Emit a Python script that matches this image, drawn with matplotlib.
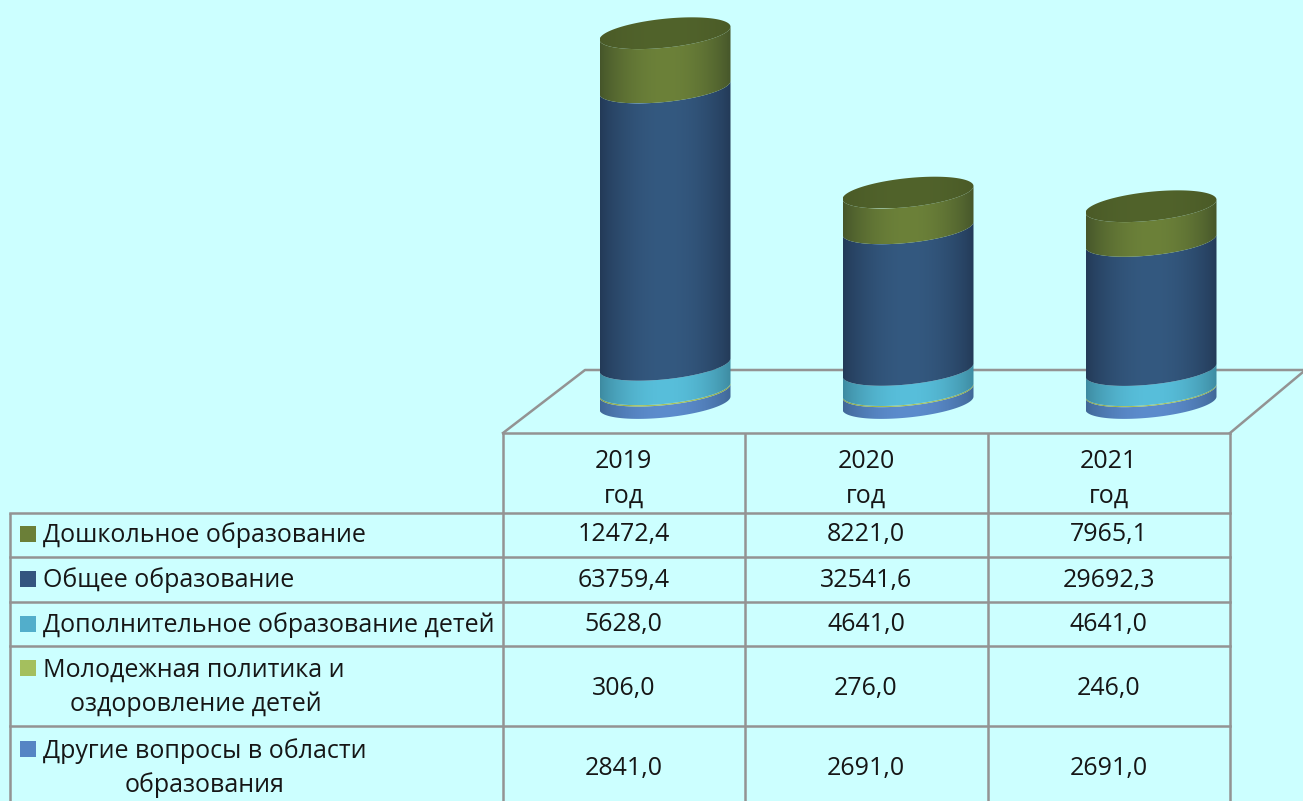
# -*- coding: utf-8 -*-
import numpy as np
import matplotlib
matplotlib.use('Agg')
import matplotlib.pyplot as plt
from matplotlib.colors import to_rgb
from matplotlib.patches import Polygon, Rectangle

plt.rcParams['font.family'] = ['Open Sans', 'DejaVu Sans']

# data
years = ['2019\nгод', '2020\nгод', '2021\nгод']
preschool = [12472.4, 8221.0, 7965.1]
general = [63759.4, 32541.6, 29692.3]
additional = [5628.0, 4641.0, 4641.0]
youth = [306.0, 276.0, 246.0]
other = [2841.0, 2691.0, 2691.0]

# table rows go top to bottom, stack goes bottom to top
rows = [preschool, general, additional, youth, other]
row_names = ['Дошкольное образование', 'Общее образование', 'Дополнительное образование детей',
             'Молодежная политика и', 'Другие вопросы в области']
row_second = [None, None, None, 'оздоровление детей', 'образования']

# colours: (edge, centre)
shades = [('#45552a', '#6c8139'), ('#233a57', '#345980'), ('#3d8aa0', '#58bfdb'),
          ('#8a9d40', '#a9c35c'), ('#3f6796', '#5c8ccd')]
legend_cols = ['#6b7f38', '#33557f', '#52aecb', '#a4bf5e', '#5585c4']
top_shade = ('#4a5a27', '#51632b')

W, H = 1303, 801
fig = plt.figure(figsize=(W / 100, H / 100), dpi=100, facecolor='#ccffff')

# table and floor, axes in pixels
tb = fig.add_axes([0, 0, 1, 1])
tb.set_xlim(0, W)
tb.set_ylim(H, 0)
tb.axis('off')
grey = '#939393'
lw = 1.8
col_x = [503, 745, 988, 1230]
row_y = [513, 557, 602, 646, 726]
for x in col_x:
    tb.plot([x, x], [433, H], color=grey, lw=lw, solid_capstyle='butt')
tb.plot([10, 10], [513, H], color=grey, lw=lw, solid_capstyle='butt')
tb.plot([503, 1230], [433, 433], color=grey, lw=lw)
for y in row_y:
    tb.plot([10, 1230], [y, y], color=grey, lw=lw)
tb.plot([503, 585, 1303], [433, 370, 370], color=grey, lw=lw)
tb.plot([1230, 1303], [433, 372], color=grey, lw=lw)

fs = 18
tcol = '#161616'
centers = [623.5, 866, 1108.5]
for cx, yr in zip(centers, years):
    a, b = yr.split('\n')
    tb.text(cx, 461, a, ha='center', va='center', fontsize=fs, color=tcol)
    tb.text(cx, 496, b, ha='center', va='center', fontsize=fs, color=tcol)

row_mid = [535, 580, 625, 689, 769]
name_y = [535, 580, 625, 670, 751]
box_y = [534, 579, 624, 668, 749]
second_x = [0, 0, 0, 196, 205]
second_y = [0, 0, 0, 704, 785]
for i, vals in enumerate(rows):
    tb.add_patch(Rectangle((20, box_y[i] - 8), 16, 16, facecolor=legend_cols[i], edgecolor='none'))
    tb.text(43, name_y[i], row_names[i], ha='left', va='center', fontsize=fs, color=tcol)
    if row_second[i]:
        tb.text(second_x[i], second_y[i], row_second[i], ha='center', va='center', fontsize=fs, color=tcol)
    for cx, v in zip(centers, vals):
        tb.text(cx, row_mid[i], f'{v:.1f}'.replace('.', ','), ha='center', va='center', fontsize=fs, color=tcol)

# cylinders, axes in value units
px_k = 4.35 / 1000          # pixels per unit
px_x = 243.0                # pixels per category
base_px, low_px = 403, 440
ax = fig.add_axes([543.5 / W, 1 - low_px / H, 729 / W, low_px / H])
ax.patch.set_alpha(0)
ax.axis('off')

half_w = 65.5 / px_x
semi = 14.5 / px_k
tilt = 6.5 / px_k
t_front = np.linspace(0, np.pi, 80)


def arc(i, level):
    # front half of the ring at this level, right to left
    xs = i + half_w * np.cos(t_front)
    ys = level + tilt * np.cos(t_front) - semi * np.sin(t_front)
    return xs, ys


def fill_shaded(xy, i, shade):
    edge, mid = np.array(to_rgb(shade[0])), np.array(to_rgb(shade[1]))
    u = np.linspace(0, 1, 200)
    k = np.sin(np.pi * u)[None, :, None] ** 0.8
    img = edge + (mid - edge) * k
    ys = xy[:, 1]
    im = ax.imshow(img, extent=[i - half_w, i + half_w, ys.min(), ys.max()], aspect='auto', zorder=3)
    clip = Polygon(xy, closed=True, transform=ax.transData, facecolor='none', edgecolor='none')
    ax.add_patch(clip)
    im.set_clip_path(clip)


stack = [other, youth, additional, general, preschool]
stack_shades = [shades[4], shades[3], shades[2], shades[1], shades[0]]
for i in range(len(years)):
    level = 0
    for vals, shade in zip(stack, stack_shades):
        x0, y0 = arc(i, level)
        level += vals[i]
        x1, y1 = arc(i, level)
        xy = np.column_stack([np.r_[x0, x1[::-1]], np.r_[y0, y1[::-1]]])
        fill_shaded(xy, i, shade)
    # top lid
    t = np.linspace(0, 2 * np.pi, 160)
    lid = np.column_stack([i + half_w * np.cos(t),
                           level + tilt * np.cos(t) + semi * np.sin(t)])
    fill_shaded(lid, i, top_shade)

ax.set_xlim(-0.5, 2.5)
ax.set_ylim(-(low_px - base_px) / px_k, base_px / px_k)

fig.savefig('out.png', dpi=100, facecolor=fig.get_facecolor())
